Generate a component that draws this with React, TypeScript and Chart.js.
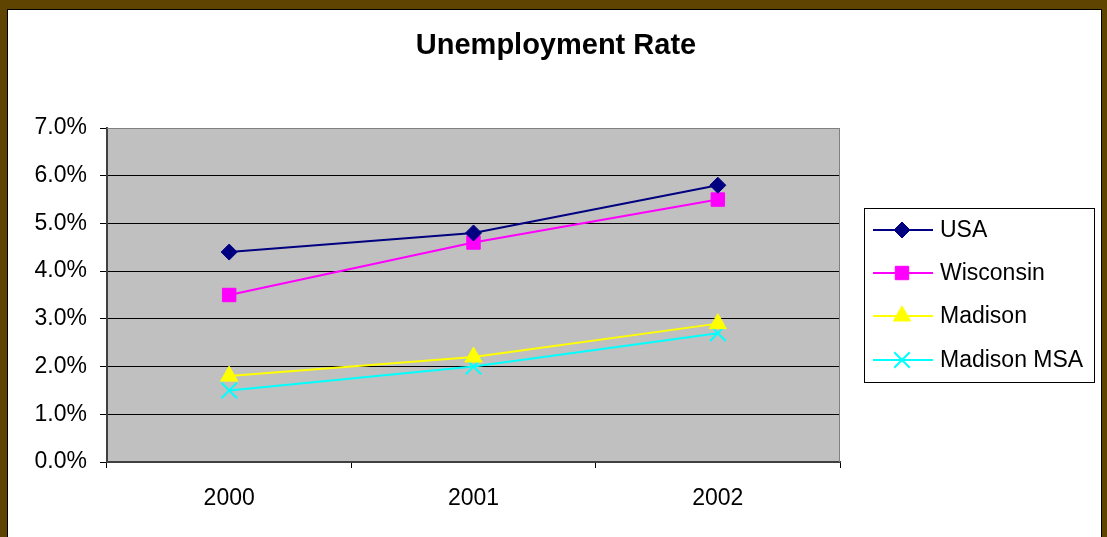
import { useEffect, useRef } from 'react';
import { Chart, registerables } from 'chart.js';

Chart.register(...registerables);

const categories = ['2000', '2001', '2002'];
const usaRates = [4.4, 4.8, 5.8];
const wisconsinRates = [3.5, 4.6, 5.5];
const madisonRates = [1.8, 2.2, 2.9];
const madisonMsaRates = [1.5, 2.0, 2.7];
const yTickMin = 0;
const yTickMax = 7;
const yTickStep = 1;
const chartTitle = 'Unemployment Rate';

const FONT = '"Liberation Sans", Arial, sans-serif';

function drawMarker(ctx: CanvasRenderingContext2D, style: string, x: number, y: number, r: number, fill: string, stroke: string, lw: number) {
  ctx.save();
  ctx.beginPath();
  ctx.fillStyle = fill;
  ctx.strokeStyle = stroke;
  ctx.lineWidth = lw;
  if (style === 'rectRot') {
    ctx.moveTo(x - r, y);
    ctx.lineTo(x, y - r);
    ctx.lineTo(x + r, y);
    ctx.lineTo(x, y + r);
    ctx.closePath();
    ctx.fill();
    ctx.stroke();
  } else if (style === 'rect') {
    const s = Math.SQRT1_2 * r;
    ctx.rect(x - s, y - s, 2 * s, 2 * s);
    ctx.fill();
    ctx.stroke();
  } else if (style === 'triangle') {
    let rad = 0;
    ctx.moveTo(x + Math.sin(rad) * r, y - Math.cos(rad) * r);
    rad += (2 * Math.PI) / 3;
    ctx.lineTo(x + Math.sin(rad) * r, y - Math.cos(rad) * r);
    rad += (2 * Math.PI) / 3;
    ctx.lineTo(x + Math.sin(rad) * r, y - Math.cos(rad) * r);
    ctx.closePath();
    ctx.fill();
    ctx.stroke();
  } else if (style === 'crossRot') {
    const o = Math.SQRT1_2 * r;
    ctx.moveTo(x - o, y - o);
    ctx.lineTo(x + o, y + o);
    ctx.moveTo(x - o, y + o);
    ctx.lineTo(x + o, y - o);
    ctx.stroke();
  }
  ctx.restore();
}

const plotBackground = {
  id: 'plotBackground',
  beforeDraw(chart: any) {
    const { ctx, chartArea } = chart;
    ctx.save();
    ctx.fillStyle = '#C0C0C0';
    ctx.fillRect(chartArea.left, chartArea.top, chartArea.right - chartArea.left, chartArea.bottom - chartArea.top);
    ctx.fillStyle = '#000000';
    ctx.font = `bold 29px ${FONT}`;
    ctx.textAlign = 'center';
    ctx.textBaseline = 'middle';
    ctx.fillText(chartTitle, 548, 36);
    ctx.restore();
  },
  beforeDatasetsDraw(chart: any) {
    const { ctx, chartArea } = chart;
    ctx.save();
    ctx.strokeStyle = '#808080';
    ctx.lineWidth = 1;
    ctx.beginPath();
    ctx.moveTo(chartArea.left, chartArea.top + 0.5);
    ctx.lineTo(chartArea.right - 0.5, chartArea.top + 0.5);
    ctx.lineTo(chartArea.right - 0.5, chartArea.bottom);
    ctx.stroke();
    ctx.restore();
  },
};

const boxLegend = {
  id: 'boxLegend',
  afterDraw(chart: any) {
    const { ctx } = chart;
    const left = 856;
    const top = 198;
    const width = 230;
    const height = 174;
    ctx.save();
    ctx.fillStyle = '#FFFFFF';
    ctx.fillRect(left, top, width, height);
    ctx.strokeStyle = '#000000';
    ctx.lineWidth = 1;
    ctx.strokeRect(left + 0.5, top + 0.5, width, height);
    const rows = [220, 263, 306, 350];
    chart.data.datasets.forEach((ds: any, i: number) => {
      const y = rows[i];
      ctx.strokeStyle = ds.borderColor;
      ctx.lineWidth = 2;
      ctx.beginPath();
      ctx.moveTo(865, y);
      ctx.lineTo(925, y);
      ctx.stroke();
      drawMarker(ctx, ds.pointStyle, 894, y, ds.pointRadius, ds.pointBackgroundColor, ds.pointBorderColor, ds.pointBorderWidth);
      ctx.fillStyle = '#000000';
      ctx.font = `23px ${FONT}`;
      ctx.textAlign = 'left';
      ctx.textBaseline = 'middle';
      ctx.fillText(ds.label, 932, y + 1);
    });
    ctx.restore();
  },
};

export default function App() {
  const canvasRef = useRef<HTMLCanvasElement | null>(null);

  useEffect(() => {
    if (!canvasRef.current) return;
    const chart = new Chart(canvasRef.current, {
      type: 'line',
      data: {
        labels: categories,
        datasets: [
          {
            label: 'USA',
            data: usaRates,
            borderColor: '#000080',
            backgroundColor: '#000080',
            borderWidth: 2,
            pointStyle: 'rectRot',
            pointRadius: 8,
            pointBackgroundColor: '#000080',
            pointBorderColor: '#000080',
            pointBorderWidth: 1,
          },
          {
            label: 'Wisconsin',
            data: wisconsinRates,
            borderColor: '#FF00FF',
            backgroundColor: '#FF00FF',
            borderWidth: 2,
            pointStyle: 'rect',
            pointRadius: 9.5,
            pointBackgroundColor: '#FF00FF',
            pointBorderColor: '#FF00FF',
            pointBorderWidth: 1,
          },
          {
            label: 'Madison',
            data: madisonRates,
            borderColor: '#FFFF00',
            backgroundColor: '#FFFF00',
            borderWidth: 2,
            pointStyle: 'triangle',
            pointRadius: 10,
            pointBackgroundColor: '#FFFF00',
            pointBorderColor: '#FFFF00',
            pointBorderWidth: 1,
          },
          {
            label: 'Madison MSA',
            data: madisonMsaRates,
            borderColor: '#00FFFF',
            backgroundColor: '#00FFFF',
            borderWidth: 2,
            pointStyle: 'crossRot',
            pointRadius: 11,
            pointBackgroundColor: '#00FFFF',
            pointBorderColor: '#00FFFF',
            pointBorderWidth: 2,
          },
        ],
      },
      options: {
        responsive: false,
        animation: false,
        devicePixelRatio: 1,
        layout: { padding: { left: 0, right: 261, top: 118, bottom: 0 } },
        plugins: {
          legend: { display: false },
          tooltip: { enabled: false },
          title: { display: false },
        },
        scales: {
          x: {
            offset: true,
            afterFit: (scale: any) => {
              scale.height = 75;
            },
            grid: {
              offset: true,
              drawOnChartArea: false,
              drawTicks: true,
              tickLength: 6,
              tickColor: '#000000',
            },
            border: { color: '#404040', width: 2 },
            ticks: {
              color: '#000000',
              font: { family: FONT, size: 23 },
              padding: 17,
              maxRotation: 0,
            },
          },
          y: {
            min: yTickMin,
            max: yTickMax,
            afterFit: (scale: any) => {
              scale.width = 99;
            },
            grid: {
              color: (c: any) => (c.tick && c.tick.value === yTickMax ? '#808080' : '#000000'),
              lineWidth: 1,
              drawTicks: true,
              tickLength: 7,
              tickColor: '#000000',
            },
            border: { color: '#404040', width: 2 },
            ticks: {
              stepSize: yTickStep,
              color: '#000000',
              font: { family: FONT, size: 23 },
              padding: 13,
              callback: (v: any) => Number(v).toFixed(1) + '%',
            },
          },
        },
      },
      plugins: [plotBackground, boxLegend],
    });
    return () => chart.destroy();
  }, []);

  return (
    <div style={{ position: 'fixed', left: 0, top: 0, width: 1107, height: 537, background: '#5E4400', overflow: 'hidden' }}>
      <div
        style={{
          position: 'absolute',
          left: 7,
          top: 9,
          width: 1093,
          height: 600,
          border: '1px solid #000000',
          background: '#FFFFFF',
        }}
      >
        <canvas ref={canvasRef} width={1093} height={527} style={{ display: 'block' }} />
      </div>
    </div>
  );
}
